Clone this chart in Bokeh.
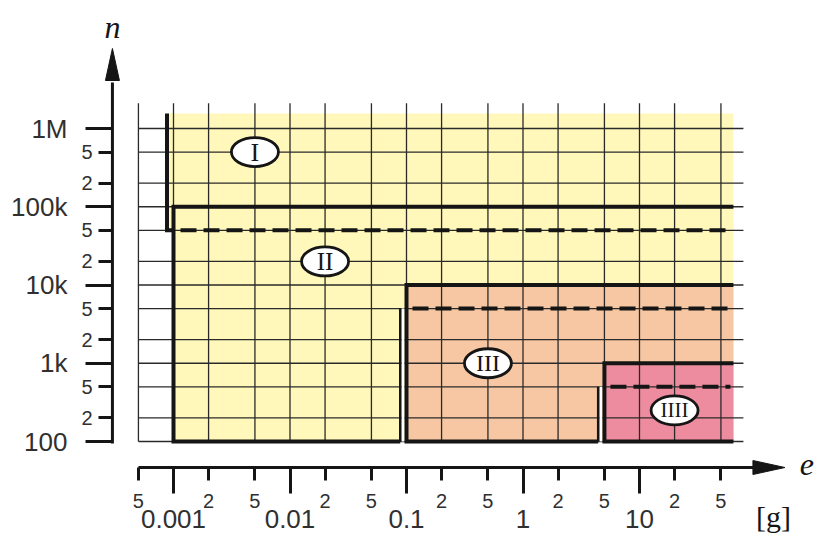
from bokeh.plotting import figure
from bokeh.models import LogAxis, FixedTicker
from bokeh.embed import file_html
from bokeh.resources import INLINE
from bokeh.core.properties import value

# ---------------- data ----------------
x_major = [0.001, 0.01, 0.1, 1, 10]
x_major_labels = ["0.001", "0.01", "0.1", "1", "10"]
x_minor = [0.0005, 0.002, 0.005, 0.02, 0.05, 0.2, 0.5, 2, 5, 20, 50]
x_minor_labels = ["5", "2", "5", "2", "5", "2", "5", "2", "5", "2", "5"]
y_major = [100, 1000, 10000, 100000, 1000000]
y_major_labels = ["100", "1k", "10k", "100k", "1M"]
y_minor = [200, 500, 2000, 5000, 20000, 50000, 200000, 500000]
y_minor_labels = ["2", "5", "2", "5", "2", "5", "2", "5"]
unit_label = "[g]"

classes = ["I", "II", "III", "IIII"]
e_min = [0.001, 0.001, 0.1, 5]          # smallest e of the class [g]
e_step = [None, 0.1, 5, None]           # e from which n_min rises
n_max = [None, 100000, 10000, 1000]     # largest n
n_min_low = [50000, 100, 100, 100]      # n_min below e_step
n_min_high = [50000, 5000, 500, 100]    # n_min from e_step on
label_e = [0.005, 0.02, 0.5, 20]
label_n = [500000, 20000, 1000, 250]
label_sizes = ["26px", "25px", "24px", "21px"]
fill_colors = ["#FFF8BA", "#FFF8BA", "#F6C7A2", "#EE8C9F"]
e_end = 64          # right end of the class areas
n_top = 1.55e6      # top of the class I area
grid_top = 2.1e6
grid_right = 78

# ---------------- layout helpers (pixel offsets in log space) ----------------
XDEC = 116.5   # px per decade, x
YDEC = 78.25   # px per decade, y


def sx(v, d):
    return v * 10 ** (d / XDEC)


def sy(v, d):
    return v * 10 ** (d / YDEC)


x_range = (sx(x_major[0], -70), sx(x_major[0], 646))
y_range = (sy(y_major[0], -34), sy(y_major[0], 441))

p = figure(width=819, height=538, x_axis_type="log", y_axis_type="log",
           x_range=x_range, y_range=y_range,
           x_axis_location=None, y_axis_location=None,
           toolbar_location=None, output_backend="svg",
           min_border_left=103, min_border_right=0, min_border_top=0,
           min_border_bottom=63)
p.grid.grid_line_color = None
p.outline_line_color = None
p.background_fill_color = "white"
p.border_fill_color = "white"

INK = "#151515"

# ---------------- class areas ----------------
off_I = -6.5
q_left = [sx(e_min[0], off_I)] + e_min[1:]
q_top = [n_top if m is None else m for m in n_max]
p.quad(left=q_left, right=[e_end] * 4, bottom=n_min_low, top=q_top,
       fill_color=fill_colors, line_color=None)

# ---------------- grid ----------------
all_x = sorted(x_minor + x_major)
all_y = sorted(y_minor + y_major)
p.multi_line(xs=[[v, v] for v in all_x], ys=[[y_major[0], grid_top]] * len(all_x),
             line_color="#2a2a2a", line_width=1.3)
p.multi_line(xs=[[x_minor[0], grid_right]] * len(all_y), ys=[[v, v] for v in all_y],
             line_color="#2a2a2a", line_width=1.3)

# ---------------- outlines ----------------
thick_xs, thick_ys = [], []
step_xs, step_ys = [], []
gap_xs, gap_ys = [], []
dash_xs, dash_ys = [], []
for i in range(len(classes)):
    if n_max[i] is None:
        xl = sx(e_min[i], off_I)
        thick_xs.append([xl, xl, e_min[i]])
        thick_ys.append([n_top, n_min_low[i], n_min_low[i]])
        dash_xs.append([sx(e_min[i], 7), sx(e_end, -5)])
        dash_ys.append([n_min_high[i], n_min_high[i]])
        continue
    if e_step[i] is None:
        xr = e_end
    else:
        xr = sx(e_step[i], -6.25)
        step_xs.append([xr, xr])
        step_ys.append([n_min_low[i], n_min_high[i]])
        gx = sx(e_step[i], -3.5)
        gap_xs.append([gx, gx])
        gap_ys.append([n_min_low[i], n_min_high[i]])
        dash_xs.append([sx(e_step[i], 6), sx(e_end, -3)])
        dash_ys.append([n_min_high[i], n_min_high[i]])
    thick_xs.append([xr, e_min[i], e_min[i], e_end])
    thick_ys.append([n_min_low[i], n_min_low[i], n_max[i], n_max[i]])

p.multi_line(xs=gap_xs, ys=gap_ys, line_color="white", line_width=3)
p.multi_line(xs=step_xs, ys=step_ys, line_color=INK, line_width=2.5)
p.multi_line(xs=thick_xs, ys=thick_ys, line_color=INK, line_width=4,
             line_join="miter")
p.multi_line(xs=dash_xs, ys=dash_ys, line_color=INK, line_width=4,
             line_dash="16 7")

# ---------------- class labels ----------------
p.ellipse(x=label_e, y=label_n, width=47, height=29,
          width_units="screen", height_units="screen",
          fill_color="white", line_color=INK, line_width=2.8)
p.text(x=label_e, y=label_n, text=classes,
       text_font=value("Liberation Serif"), text_font_size=label_sizes,
       text_align="center", text_baseline="middle", text_color=INK)

# ---------------- axis lines with arrows ----------------
x_ax = sx(x_minor[0], -26)
y_ax = sy(y_major[0], -26)
up_base = sy(y_major[-1], 48)
up_tip = sy(y_major[-1], 80)
rt_base = sx(x_minor[-1], 32)
rt_tip = sx(x_minor[-1], 64)
p.line(x=[x_ax, x_ax], y=[sy(y_major[0], -2), sy(up_base, -2)],
       line_color=INK, line_width=3)
p.line(x=[x_minor[0], sx(rt_base, 2)], y=[y_ax, y_ax],
       line_color=INK, line_width=3)
p.patch(x=[sx(x_ax, -7), x_ax, sx(x_ax, 7)], y=[up_base, up_tip, up_base],
        fill_color=INK, line_color=INK, line_width=1)
p.patch(x=[rt_base, rt_tip, rt_base], y=[sy(y_ax, 7), y_ax, sy(y_ax, -7)],
        fill_color=INK, line_color=INK, line_width=1)

p.text(x=[x_ax], y=[sy(y_major[-1], 102)], text=["n"],
       text_font=value("Liberation Serif"), text_font_style="italic",
       text_font_size="32px", text_align="center", text_baseline="middle",
       text_color=INK)
p.text(x=[sx(x_minor[-1], 86)], y=[sy(y_ax, 3)], text=["e"],
       text_font=value("Liberation Serif"), text_font_style="italic",
       text_font_size="32px", text_align="center", text_baseline="middle",
       text_color=INK)

# ---------------- axes (ticks and labels) ----------------
LBL = "#303030"


def style_inner(ax):
    ax.axis_line_color = None
    ax.major_tick_in = 8
    ax.major_tick_out = 5
    ax.minor_tick_in = 8
    ax.minor_tick_out = 18
    ax.major_tick_line_color = INK
    ax.minor_tick_line_color = INK
    ax.major_tick_line_width = 3
    ax.minor_tick_line_width = 3
    ax.major_label_text_font = "Liberation Sans"
    ax.major_label_text_font_size = "20px"
    ax.major_label_text_color = LBL


def style_outer(ax, font="Liberation Sans", size="26px"):
    ax.axis_line_color = None
    ax.major_tick_in = 0
    ax.major_tick_out = 0
    ax.minor_tick_in = 0
    ax.minor_tick_out = 0
    ax.major_tick_line_color = None
    ax.minor_tick_line_color = None
    ax.major_label_text_font = font
    ax.major_label_text_font_size = size
    ax.major_label_text_color = LBL


yA = LogAxis(ticker=FixedTicker(ticks=y_minor, minor_ticks=y_major),
             major_label_overrides=dict(zip(y_minor, y_minor_labels)),
             major_label_standoff=-7)
style_inner(yA)
yB = LogAxis(ticker=FixedTicker(ticks=y_major, minor_ticks=[]),
             major_label_overrides=dict(zip(y_major, y_major_labels)),
             major_label_standoff=11)
style_outer(yB)
p.add_layout(yA, "left")
p.add_layout(yB, "left")

xA = LogAxis(ticker=FixedTicker(ticks=x_minor, minor_ticks=x_major),
             major_label_overrides=dict(zip(x_minor, x_minor_labels)),
             major_label_standoff=0)
style_inner(xA)
xB = LogAxis(ticker=FixedTicker(ticks=x_major, minor_ticks=[]),
             major_label_overrides=dict(zip(x_major, x_major_labels)),
             major_label_standoff=-1)
style_outer(xB)
g_pos = sx(x_major[-1], 134)
xG = LogAxis(ticker=FixedTicker(ticks=[g_pos], minor_ticks=[]),
             major_label_overrides={g_pos: unit_label},
             major_label_standoff=-31)
style_outer(xG, font="Liberation Serif", size="30px")
xG.major_label_text_color = INK
p.add_layout(xA, "below")
p.add_layout(xB, "below")
p.add_layout(xG, "below")

open("out.html", "w").write(file_html(p, INLINE))
